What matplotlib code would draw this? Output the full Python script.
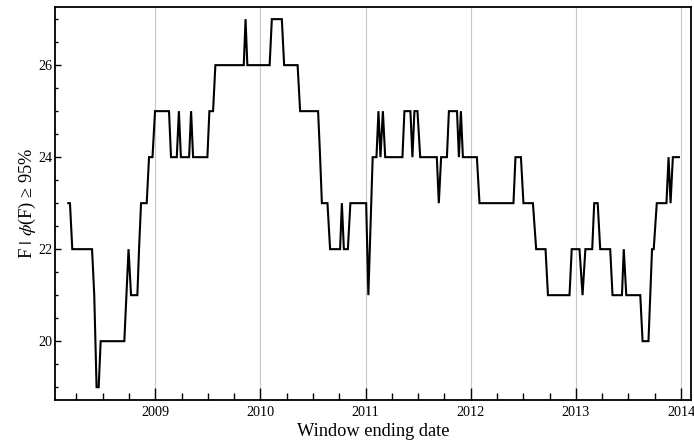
import matplotlib
matplotlib.use("Agg")
import matplotlib.pyplot as plt
from matplotlib.ticker import MultipleLocator

# vertices of the curve (decimal year, F value)
years = [
    2008.172, 2008.188, 2008.210, 2008.398, 2008.419, 2008.441, 2008.461, 2008.480,
    2008.705, 2008.745, 2008.769, 2008.829, 2008.845, 2008.864, 2008.918, 2008.940,
    2008.973, 2008.997, 2009.130, 2009.149, 2009.204, 2009.224, 2009.243, 2009.321,
    2009.340, 2009.359, 2009.495, 2009.514, 2009.549, 2009.571, 2009.841, 2009.858,
    2009.875, 2010.087, 2010.108, 2010.203, 2010.225, 2010.353, 2010.377, 2010.548,
    2010.567, 2010.584, 2010.637, 2010.662, 2010.757, 2010.774, 2010.793, 2010.831,
    2010.855, 2011.005, 2011.026, 2011.067, 2011.103, 2011.122, 2011.141, 2011.164,
    2011.186, 2011.350, 2011.369, 2011.426, 2011.445, 2011.464, 2011.493, 2011.519,
    2011.677, 2011.696, 2011.718, 2011.773, 2011.792, 2011.869, 2011.887, 2011.906,
    2011.925, 2012.058, 2012.083, 2012.406, 2012.425, 2012.477, 2012.501, 2012.591,
    2012.622, 2012.711, 2012.734, 2012.939, 2012.960, 2013.034, 2013.063, 2013.090,
    2013.155, 2013.174, 2013.207, 2013.231, 2013.326, 2013.348, 2013.438, 2013.455,
    2013.479, 2013.612, 2013.634, 2013.690, 2013.707, 2013.724, 2013.740, 2013.769,
    2013.861, 2013.881, 2013.900, 2013.922, 2013.980,
]
f_values = [
    23, 23, 22, 22, 21, 19, 19, 20,
    20, 22, 21, 21, 22, 23, 23, 24,
    24, 25, 25, 24, 24, 25, 24, 24,
    25, 24, 24, 25, 25, 26, 26, 27,
    26, 26, 27, 27, 26, 26, 25, 25,
    24, 23, 23, 22, 22, 23, 22, 22,
    23, 23, 21, 24, 24, 25, 24, 25,
    24, 24, 25, 25, 24, 25, 25, 24,
    24, 23, 24, 24, 25, 25, 24, 25,
    24, 24, 23, 23, 24, 24, 23, 23,
    22, 22, 21, 21, 22, 22, 21, 22,
    22, 23, 23, 22, 22, 21, 21, 22,
    21, 21, 20, 20, 21, 22, 22, 23,
    23, 24, 23, 24, 24,
]

year_ticks = [2009, 2010, 2011, 2012, 2013, 2014]

plt.rcParams["font.family"] = ["Liberation Serif", "DejaVu Serif"]
plt.rcParams["mathtext.fontset"] = "stix"

fig = plt.figure(figsize=(6.94, 4.48), dpi=100)
ax = fig.add_axes([0.0793, 0.107, 0.916, 0.878])

for yr in year_ticks:
    ax.axvline(yr, color="#c8c8c8", lw=0.8, zorder=0)

ax.plot(years, f_values, color="black", lw=1.5, solid_joinstyle="miter")

ax.set_xlim(2008.046, 2014.092)
ax.set_ylim(18.72, 27.27)
ax.set_xticks(year_ticks)
ax.xaxis.set_minor_locator(MultipleLocator(0.25))
ax.set_yticks([20, 22, 24, 26])
ax.yaxis.set_minor_locator(MultipleLocator(0.5))

ax.tick_params(axis="both", which="both", direction="in", top=False, right=False,
               labelsize=10.2, width=1.0, colors="black")
ax.tick_params(axis="x", which="major", length=9, pad=4)
ax.tick_params(axis="x", which="minor", length=5)
ax.tick_params(axis="y", which="major", length=4.5, pad=2)
ax.tick_params(axis="y", which="minor", length=2.5)
for sp in ax.spines.values():
    sp.set_linewidth(1.3)

ax.set_xlabel("Window ending date", fontsize=13.2)
ax.set_ylabel(r"F $|$ $\phi$(F) ≥ 95%", fontsize=13.2)
ax.xaxis.label.set_va("center")
ax.yaxis.label.set_va("center")
ax.xaxis.set_label_coords(0.5, -0.081)
ax.yaxis.set_label_coords(-0.044, 0.5)

fig.savefig("out.png", dpi=100)
